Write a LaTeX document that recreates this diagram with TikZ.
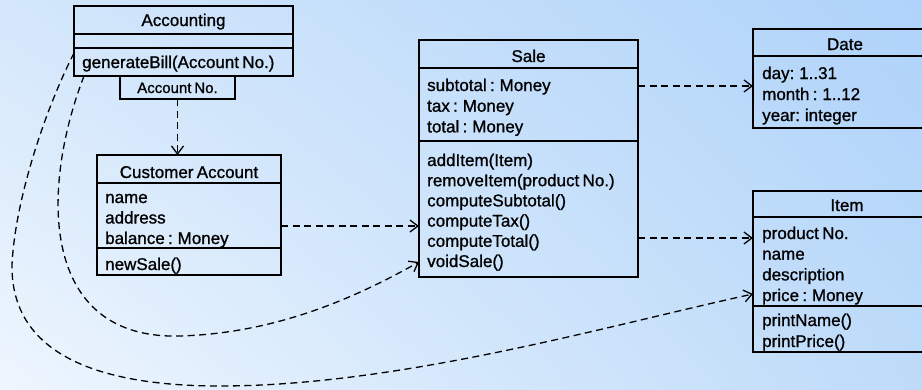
\documentclass[tikz,border=0pt]{standalone}
\usepackage{fontspec}
\setmainfont{Liberation Sans}[FakeBold=1, WordSpace=0.7]
\usetikzlibrary{arrows.meta,calc,shadings}
\definecolor{bgUL}{HTML}{D4E7FB}
\definecolor{bgUR}{HTML}{AFD3FA}
\definecolor{bgLL}{HTML}{EEF6FE}
\definecolor{bgLR}{HTML}{BEDBF9}
\tikzset{
  cls/.style={draw, line width=1.4pt, inner sep=0pt, outer sep=0pt, anchor=north west},
  sepline/.style={line width=1.4pt},
  mem/.style={anchor=base west, inner sep=0pt, font=\fontsize{17}{20}\selectfont},
  ttl/.style={anchor=base, inner sep=0pt, font=\fontsize{17}{20}\selectfont},
  dep/.style={line width=1.3pt, dash pattern=on 7pt off 4.5pt,
    -{Straight Barb[length=8pt,width=12pt,line width=1.3pt]}},
}
\begin{document}
\begin{tikzpicture}[x=1pt,y=-1pt]
  % background
  \useasboundingbox (0,0) rectangle (922,389);
  \shade[upper left=bgUL, upper right=bgUR, lower left=bgLL, lower right=bgLR]
    (0,0) rectangle (922,389);

  % class boxes
  \node[cls, minimum width=219pt, minimum height=70pt] (acc) at (74,6) {};
  \node[cls, minimum width=115pt, minimum height=23pt] (accno) at (120,76) {};
  \node[cls, minimum width=184pt, minimum height=120pt] (cust) at (97,155) {};
  \node[cls, minimum width=219pt, minimum height=237pt] (sale) at (419,40) {};
  \node[cls, minimum width=184pt, minimum height=99pt] (date) at (753,29) {};
  \node[cls, minimum width=184pt, minimum height=161pt] (item) at (753,191) {};

  % compartment separators
  \draw[sepline] ($(acc.north west)+(0,28)$) -- ($(acc.north east)+(0,28)$);
  \draw[sepline] ($(acc.north west)+(0,42)$) -- ($(acc.north east)+(0,42)$);
  \draw[sepline] ($(cust.north west)+(0,28)$) -- ($(cust.north east)+(0,28)$);
  \draw[sepline] ($(cust.north west)+(0,93)$) -- ($(cust.north east)+(0,93)$);
  \draw[sepline] ($(sale.north west)+(0,28)$) -- ($(sale.north east)+(0,28)$);
  \draw[sepline] ($(sale.north west)+(0,101)$) -- ($(sale.north east)+(0,101)$);
  \draw[sepline] ($(date.north west)+(0,27)$) -- ($(date.north east)+(0,27)$);
  \draw[sepline] ($(item.north west)+(0,26)$) -- ($(item.north east)+(0,26)$);
  \draw[sepline] ($(item.north west)+(0,115)$) -- ($(item.north east)+(0,115)$);

  % Accounting
  \node[ttl] (accT) at (183.5,26) {Accounting};
  \node[mem] (accM) at (82,68) {generateBill(Account No.)};
  \node[ttl, font=\fontsize{15}{18}\selectfont] (accnoT) at (177.5,93) {Account No.};

  % CustomerAccount
  \node[ttl] (custT) at (189,178) {Customer Account};
  \foreach \t [count=\i from 0] in {name, address, balance : Money}
    \node[mem] (custA\i) at (105,203+20.5*\i) {\t};
  \node[mem] (custM) at (105,270) {newSale()};

  % Sale
  \node[ttl] (saleT) at (528.5,62) {Sale};
  \foreach \t [count=\i from 0] in {subtotal : Money, tax : Money, total : Money}
    \node[mem] (saleA\i) at (427,91+20.7*\i) {\t};
  \foreach \t [count=\i from 0] in {addItem(Item), removeItem(product No.),
      computeSubtotal(), computeTax(), computeTotal(), voidSale()}
    \node[mem] (saleM\i) at (427,166+20.2*\i) {\t};

  % Date
  \node[ttl] (dateT) at (845,50) {Date};
  \foreach \t [count=\i from 0] in {day: 1..31, month : 1..12, year: integer}
    \node[mem] (dateA\i) at (762,79+21*\i) {\t};

  % Item
  \node[ttl] (itemT) at (847,211) {Item};
  \foreach \t [count=\i from 0] in {product No., name, description, price : Money}
    \node[mem] (itemA\i) at (762,239+20.7*\i) {\t};
  \foreach \t [count=\i from 0] in {printName(), printPrice()}
    \node[mem] (itemM\i) at (762,326+21*\i) {\t};

  % connector heights
  \coordinate (y53) at (0,53);
  \coordinate (y86) at (0,86);
  \coordinate (y226) at (0,226);
  \coordinate (y238) at (0,238);
  \coordinate (y262) at (0,262);
  \coordinate (y294) at (0,294);

  % dependencies
  \draw[dep] (accno.south) -- (accno.south |- cust.north);
  \draw[dep] (sale.east |- y86) -- (date.west |- y86);
  \draw[dep] (sale.east |- y238) -- (item.west |- y238);
  \draw[dep] (cust.east |- y226) -- (sale.west |- y226);
  \draw[dep] ($(acc.south west)+(10,0)$)
    .. controls (40,190) and (40,340) .. (180,336)
    .. controls (280,333) and (360,295) .. (sale.west |- y262);
  \draw[dep] (acc.west |- y53)
    .. controls (45,110) and (15,200) .. (12,265)
    .. controls (11,350) and (90,386) .. (220,386)
    .. controls (400,386) and (610,325) .. (item.west |- y294);
\end{tikzpicture}
\end{document}
